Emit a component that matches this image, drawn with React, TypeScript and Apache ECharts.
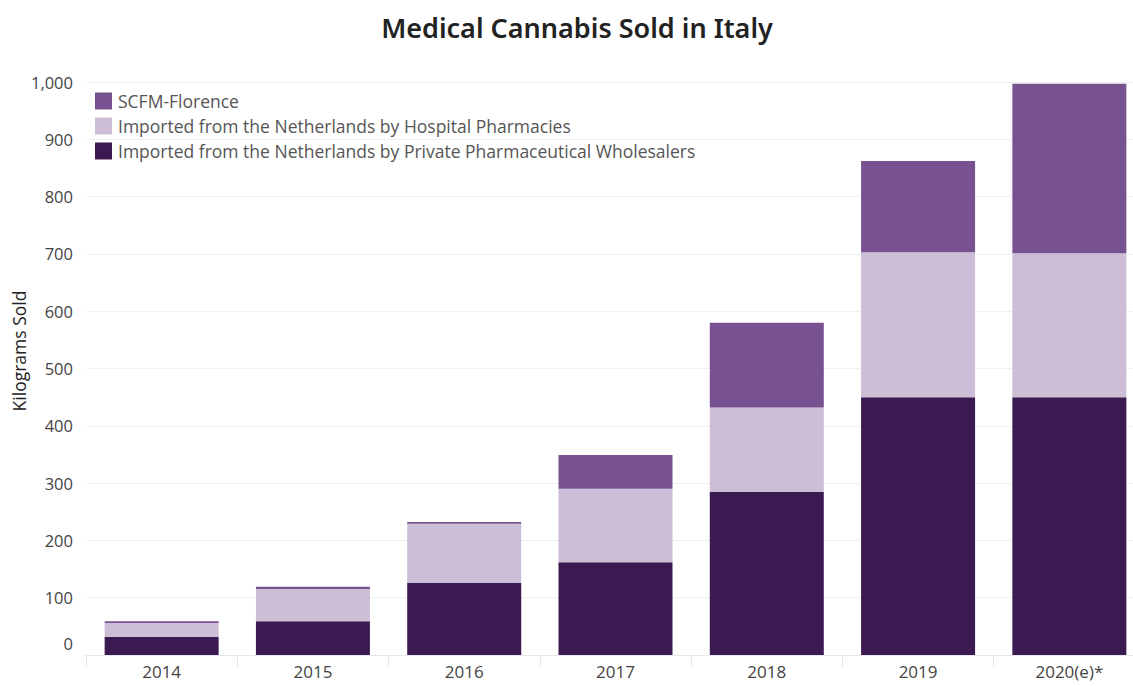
import React, { useEffect, useRef } from "react";
import * as echarts from "echarts";

const categories = ["2014", "2015", "2016", "2017", "2018", "2019", "2020(e)*"];
const privateWholesalers = [32, 59, 126, 162, 285, 450, 450];
const hospitalPharmacies = [24, 56, 103, 128, 147, 253, 251];
const scfmFlorence = [3, 4, 3, 59, 148, 159, 296];
const seriesNames = [
  "SCFM-Florence",
  "Imported from the Netherlands by Hospital Pharmacies",
  "Imported from the Netherlands by Private Pharmaceutical Wholesalers",
];

export default function App() {
  const ref = useRef<HTMLDivElement>(null);
  useEffect(() => {
    if (!ref.current) return;
    const chart = echarts.init(ref.current, null, { renderer: "svg" });
    const font = "'Open Sans', 'Noto Sans', sans-serif";
    chart.setOption({
      animation: false,
      backgroundColor: "#ffffff",
      title: {
        text: "Medical Cannabis Sold in Italy",
        left: 572,
        textAlign: "center",
        top: 9,
        textStyle: { fontFamily: "'Noto Sans', sans-serif", fontSize: 27, fontWeight: 600, color: "#222222" },
      },
      legend: {
        orient: "vertical",
        left: 95,
        top: 92,
        padding: 0,
        itemWidth: 17,
        itemHeight: 17,
        itemGap: 7,
        icon: "rect",
        data: seriesNames,
        textStyle: { fontFamily: font, fontSize: 17.5, lineHeight: 17, color: "#555555", padding: [0, 0, 0, 1] },
      },
      graphic: [
        {
          type: "text",
          x: 19,
          y: 351,
          rotation: Math.PI / 2,
          style: {
            text: "Kilograms Sold",
            fontFamily: font,
            fontSize: 17.5,
            fill: "#222222",
            textAlign: "center",
            textVerticalAlign: "middle",
          },
        },
      ],
      grid: { left: 86, width: 1059, top: 82, bottom: 31, containLabel: false },
      xAxis: {
        type: "category",
        data: categories,
        axisLine: { show: true, lineStyle: { color: "#e8e8e8" } },
        axisTick: { show: true, length: 12, lineStyle: { color: "#e8e8e8" } },
        axisLabel: { fontFamily: font, fontSize: 17, color: "#444444", margin: 8 },
      },
      yAxis: {
        type: "value",
        min: 0,
        max: 1000,
        interval: 100,
        axisLine: { show: false },
        axisTick: { show: false },
        splitLine: { lineStyle: { color: "#f0f0f0" } },
        axisLabel: {
          fontFamily: font,
          fontSize: 16.5,
          color: "#444444",
          margin: 13,
          formatter: (v: number) => (v === 0 ? "{z|0}" : v.toLocaleString("en-US")),
          rich: { z: { fontFamily: font, fontSize: 16.5, color: "#444444", padding: [0, 0, 24, 0] } },
        },
      },
      series: [
        {
          name: seriesNames[2],
          type: "bar",
          stack: "total",
          barWidth: 114,
          data: privateWholesalers,
          itemStyle: { color: "#3b1a52" },
        },
        {
          name: seriesNames[1],
          type: "bar",
          stack: "total",
          barWidth: 114,
          data: hospitalPharmacies,
          itemStyle: { color: "#cbbed6" },
        },
        {
          name: seriesNames[0],
          type: "bar",
          stack: "total",
          barWidth: 114,
          data: scfmFlorence,
          itemStyle: { color: "#785190" },
        },
      ],
    });
    return () => chart.dispose();
  }, []);
  return (
    <div style={{ position: "fixed", left: 0, top: 0, width: 1133, height: 686, overflow: "hidden", background: "#fff" }}>
      <div ref={ref} style={{ width: 1160, height: 686 }} />
    </div>
  );
}
